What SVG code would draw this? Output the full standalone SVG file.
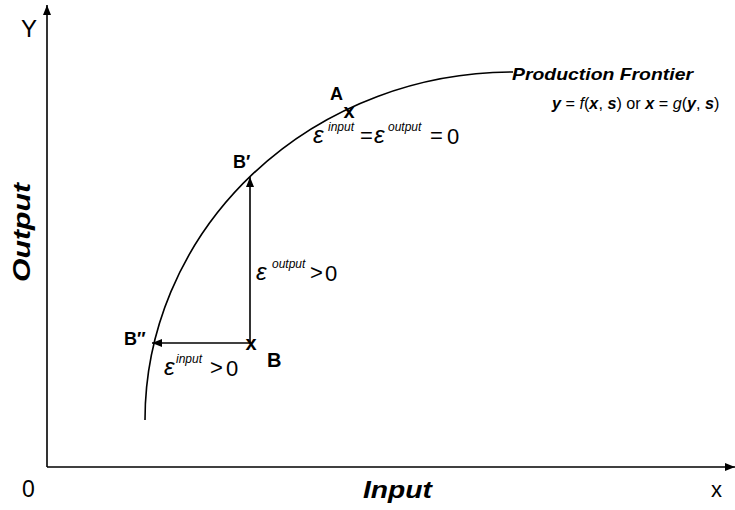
<svg xmlns="http://www.w3.org/2000/svg" width="735" height="510" viewBox="0 0 735 510">
<style>
text{font-family:"Liberation Sans",Arial,sans-serif;fill:#000}
.b{font-weight:bold}
.bi{font-weight:bold;font-style:italic}
.i{font-style:italic}
.e{font-size:24px;font-style:italic}
.sup{font-size:12px;font-style:italic}
.m{font-size:22px}
.z{font-size:22px}
.ln{stroke:#000;stroke-width:1.6;fill:none}
</style>
<defs>
<marker id="ah" viewBox="0 0 10 8" refX="10" refY="4" markerWidth="10" markerHeight="8" markerUnits="userSpaceOnUse" orient="auto">
<path d="M0,0 L10,4 L0,8 Z" fill="#000"/>
</marker>
</defs>
<g id="axes">
<line class="ln" x1="47" y1="467" x2="47" y2="5" marker-end="url(#ah)"/>
<line class="ln" x1="47" y1="467" x2="735" y2="467" marker-end="url(#ah)"/>
<text x="21" y="37" font-size="24">Y</text>
<text x="22" y="497" font-size="23">0</text>
<text x="711" y="497" font-size="22">x</text>
<text class="bi" x="363" y="498" font-size="24" textLength="69" lengthAdjust="spacingAndGlyphs">Input</text>
<text class="bi" transform="translate(30,282) rotate(-90)" x="0" y="0" font-size="24" textLength="99" lengthAdjust="spacingAndGlyphs">Output</text>
</g>
<g id="frontier">
<path class="ln" stroke-width="1.3" d="M145,420 A368,348 0 0 1 513,72"/>
<text class="bi" x="512" y="80" font-size="17" textLength="181" lengthAdjust="spacingAndGlyphs">Production Frontier</text>
<text x="552" y="109" font-size="16.2"><tspan class="bi">y</tspan> = <tspan class="i">f</tspan>(<tspan class="bi">x</tspan>, <tspan class="bi">s</tspan>) or <tspan class="bi">x</tspan> = <tspan class="i">g</tspan>(<tspan class="bi">y</tspan>, <tspan class="bi">s</tspan>)</text>
</g>
<g id="pointA">
<text class="b" x="330" y="100" font-size="18">A</text>
<text class="b" x="349" y="118" font-size="20" text-anchor="middle">x</text>
<text class="e" x="313" y="143">ε</text>
<text class="sup" x="328" y="131">input</text>
<text class="m" x="360" y="143">=</text>
<text class="e" x="374" y="143">ε</text>
<text class="sup" x="388" y="131">output</text>
<text class="m" x="430" y="143">=</text>
<text class="z" x="447" y="144">0</text>
</g>
<g id="pointBprime">
<text class="b" x="233" y="168" font-size="18">B′</text>
</g>
<g id="pointB">
<text class="b" x="251" y="350" font-size="20" text-anchor="middle">x</text>
<text class="b" x="267" y="367" font-size="20">B</text>
</g>
<g id="pointBdoubleprime">
<text class="b" x="124" y="345" font-size="18">B″</text>
</g>
<g id="connectors">
<line class="ln" x1="250" y1="343" x2="250" y2="177" marker-end="url(#ah)"/>
<line class="ln" x1="250" y1="343" x2="152" y2="343" marker-end="url(#ah)"/>
<text class="e" x="256" y="280">ε</text>
<text class="sup" x="272" y="268">output</text>
<text class="m" x="310" y="280">&gt;</text>
<text class="z" x="325" y="281">0</text>
<text class="e" x="164" y="375">ε</text>
<text class="sup" x="176" y="363">input</text>
<text class="m" x="210" y="375">&gt;</text>
<text class="z" x="226" y="376">0</text>
</g>
</svg>
